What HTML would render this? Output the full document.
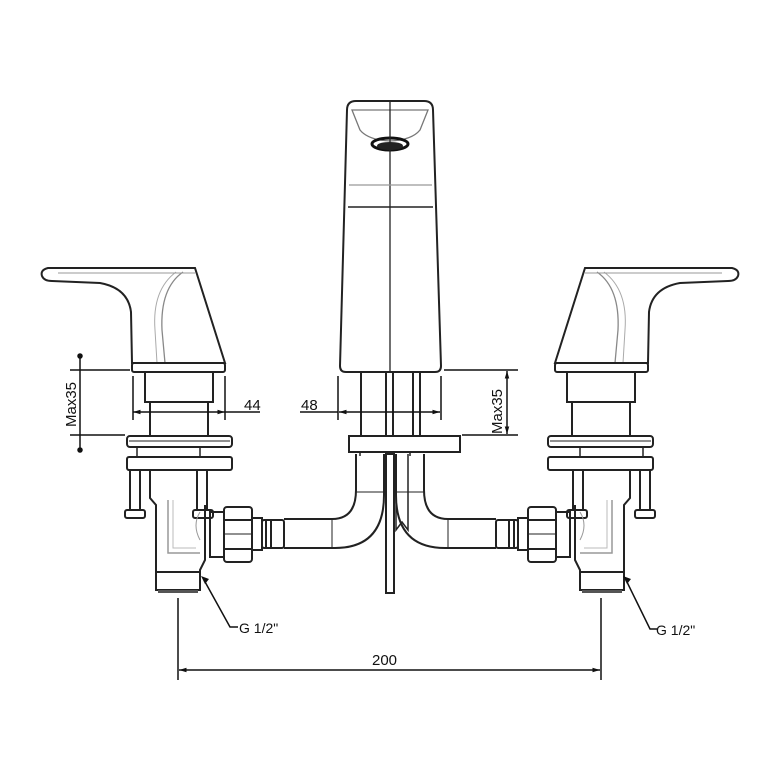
<!DOCTYPE html>
<html><head><meta charset="utf-8"><style>
html,body{margin:0;padding:0;background:#fff;}
svg{display:block;}
text{font-family:"Liberation Sans",sans-serif;fill:#111;}
</style></head><body>
<svg width="768" height="768" viewBox="0 0 768 768" xmlns="http://www.w3.org/2000/svg">
<defs>
<marker id="ar" viewBox="0 0 10 10" refX="10" refY="5" markerWidth="7" markerHeight="5" orient="auto-start-reverse"><path d="M0,2 L10,5 L0,8 Z" fill="#111"/></marker>
<g id="side" fill="none" stroke="#222" stroke-width="2">
  <!-- lever -->
  <path d="M195,268 L48,268 Q40,270 42,276 Q44,281 52,281 L100,283 Q128,288 131,312 L132,363 L225,363 L195,268 Z"/>
  <path d="M183,272 Q160,288 162,330 L165,363" stroke="#888" stroke-width="1.3"/>
  <path d="M176,272 Q152,290 155,330 L157,363" stroke="#aaa" stroke-width="1"/>
  <line x1="58" y1="273" x2="195" y2="273" stroke="#999" stroke-width="1"/>
  <rect x="132" y="363" width="93" height="9" rx="2"/>
  <rect x="145" y="372" width="68" height="30"/>
  <line x1="150" y1="402" x2="150" y2="436"/>
  <line x1="208" y1="402" x2="208" y2="436"/>
  <!-- plates -->
  <rect x="127" y="436" width="105" height="11" rx="3"/>
  <line x1="129" y1="441" x2="230" y2="441" stroke-width="1"/>
  <rect x="127" y="457" width="105" height="13" rx="2"/>
  <line x1="137" y1="447" x2="137" y2="457" stroke-width="1.5"/>
  <line x1="200" y1="447" x2="200" y2="457" stroke-width="1.5"/>
  <!-- legs -->
  <line x1="130" y1="470" x2="130" y2="510"/><line x1="140" y1="470" x2="140" y2="510"/>
  <rect x="125" y="510" width="20" height="8" rx="2"/>
  <line x1="197" y1="470" x2="197" y2="510"/><line x1="207" y1="470" x2="207" y2="510"/>
  <rect x="193" y="510" width="20" height="8" rx="2"/>
  <!-- body -->
  <path d="M150,470 L150,498 L156,505 L156,590 L200,590 L200,570 L205,560 L205,505"/>
  <line x1="156" y1="572" x2="200" y2="572"/>
  <rect x="158" y="590" width="40" height="3" fill="#555" stroke="none"/>
  <path d="M168,500 L168,553 L200,553" stroke="#999" stroke-width="1.5"/>
  <path d="M173,500 L173,548 L196,548" stroke="#bbb" stroke-width="1"/>
  <path d="M200,512 Q192,525 200,540" stroke="#999" stroke-width="1"/>
  <!-- collar + nut -->
  <rect x="210" y="512" width="14" height="45"/>
  <rect x="224" y="507" width="28" height="55" rx="3"/>
  <line x1="224" y1="520" x2="252" y2="520"/>
  <line x1="224" y1="549" x2="252" y2="549"/>
  <line x1="224" y1="534" x2="252" y2="534" stroke-width="1"/>
  <rect x="252" y="518" width="10" height="32"/>
  <line x1="266" y1="520" x2="266" y2="548"/>
  <line x1="271" y1="520" x2="271" y2="548"/>
  <rect x="262" y="520" width="22" height="28" rx="2"/>
  <!-- pipe -->
  <path d="M284,519 L332,519 Q356,519 356,490 L356,454"/>
  <path d="M284,548 L335,548 Q384,548 384,495 L384,454"/>
  <line x1="332" y1="519" x2="332" y2="548" stroke-width="1"/>
  <line x1="356" y1="492" x2="384" y2="492" stroke-width="1"/>
</g>
</defs>

<use href="#side"/>
<use href="#side" transform="translate(780,0) scale(-1,1)"/>

<g fill="none" stroke="#222" stroke-width="2">
  <!-- spout -->
  <path d="M347,110 Q347,101 356,101 L424,101 Q433,101 433,110 L441,366 Q441,372 435,372 L346,372 Q340,372 340,366 Z"/>
  <path d="M352,110 L428,110 L420,130 Q412,140 390,141 Q368,140 360,130 Z" stroke="#777" stroke-width="1.3"/>
  <ellipse cx="390" cy="144" rx="18" ry="6" stroke="#111" stroke-width="3"/>
  <ellipse cx="390" cy="146" rx="12" ry="3" fill="#222"/>
  <line x1="390" y1="101" x2="390" y2="372" stroke-width="1.3"/>
  <line x1="349" y1="185" x2="432" y2="185" stroke="#999" stroke-width="1.3"/>
  <line x1="348" y1="207" x2="433" y2="207" stroke-width="1.5"/>
  <!-- stems -->
  <line x1="361" y1="372" x2="361" y2="436"/>
  <line x1="386" y1="372" x2="386" y2="436"/>
  <line x1="393" y1="372" x2="393" y2="436"/>
  <line x1="413" y1="372" x2="413" y2="436"/>
  <line x1="420" y1="372" x2="420" y2="436"/>
  <path d="M349,436 L460,436 L460,452 L349,452 Z"/>
  <!-- tail -->
  <rect x="386" y="454" width="8" height="139"/>
  <path d="M396,454 L396,530 L402,522 L408,530 L408,454" stroke-width="1.5"/>
  <path d="M360,452 L360,456 M410,452 L410,456" stroke-width="1.5"/>
</g>

<!-- dimensions -->
<g stroke="#111" stroke-width="1.5" fill="none">
  <!-- left Max35 -->
  <line x1="70" y1="370" x2="130" y2="370"/>
  <line x1="70" y1="435" x2="125" y2="435"/>
  <line x1="80" y1="356" x2="80" y2="450"/>
  <circle cx="80" cy="356" r="2" fill="#111"/><circle cx="80" cy="450" r="2" fill="#111"/>
  <!-- 44 -->
  <line x1="133" y1="376" x2="133" y2="420"/>
  <line x1="225" y1="376" x2="225" y2="420"/>
  <line x1="133" y1="412" x2="225" y2="412" marker-start="url(#ar)" marker-end="url(#ar)"/>
  <line x1="225" y1="412" x2="260" y2="412"/>
  <!-- 48 -->
  <line x1="338" y1="376" x2="338" y2="420"/>
  <line x1="441" y1="376" x2="441" y2="420"/>
  <line x1="300" y1="412" x2="338" y2="412"/>
  <line x1="339" y1="412" x2="440" y2="412" marker-start="url(#ar)" marker-end="url(#ar)"/>
  <!-- right Max35 -->
  <line x1="444" y1="370" x2="518" y2="370"/>
  <line x1="462" y1="435" x2="518" y2="435"/>
  <line x1="507" y1="371" x2="507" y2="434" marker-start="url(#ar)" marker-end="url(#ar)"/>
  <!-- 200 -->
  <line x1="178" y1="598" x2="178" y2="680"/>
  <line x1="601" y1="598" x2="601" y2="680"/>
  <line x1="179" y1="670" x2="600" y2="670" marker-start="url(#ar)" marker-end="url(#ar)"/>
  <!-- leaders -->
  <path d="M204,580 L230,627 L238,627"/>
  <path d="M626,580 L650,629 L657,629"/>
</g>
<path d="M201,576 l8,3 l-4,5 Z M623,576 l8,3 l-4,5 Z" fill="#111"/>

<text x="244" y="410" font-size="15">44</text>
<text x="301" y="410" font-size="15">48</text>
<text x="372" y="665" font-size="15">200</text>
<text x="239" y="633" font-size="14">G  1/2"</text>
<text x="656" y="635" font-size="14">G  1/2"</text>
<text transform="translate(76,427) rotate(-90)" font-size="15">Max35</text>
<text transform="translate(502,434) rotate(-90)" font-size="15">Max35</text>
</svg>
</body></html>
